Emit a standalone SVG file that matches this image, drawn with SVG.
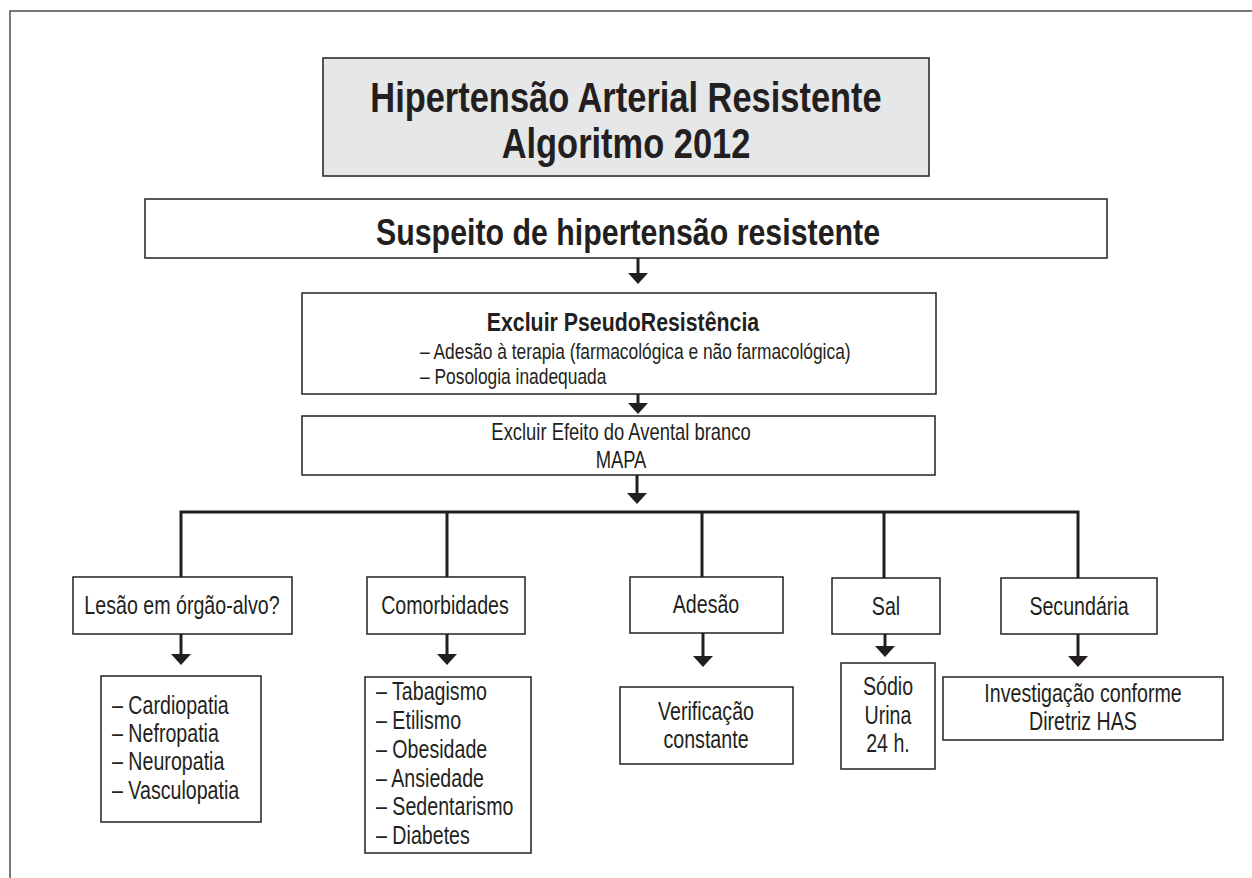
<svg xmlns="http://www.w3.org/2000/svg" width="1252" height="878" viewBox="0 0 1252 878">
<style>
.box{fill:#ffffff;stroke:#231f20;stroke-width:1.5}
.gray{fill:#e6e7e8}
.t{font-family:"Liberation Sans",Arial,sans-serif;fill:#231f20;font-size:25px}
.b{font-weight:bold}
.c{text-anchor:middle}
.ln{fill:none;stroke:#231f20;stroke-width:3}
.arr{fill:none;stroke:#231f20;stroke-width:3;marker-end:url(#ah)}
.frame{fill:none;stroke:#4d4d4d;stroke-width:1.5}
</style>
<defs>
<marker id="ah" viewBox="0 0 11 20" refX="2" refY="10" markerWidth="11" markerHeight="20" markerUnits="userSpaceOnUse" orient="auto">
<path d="M0,0 L11,10 L0,20 Z" fill="#231f20"/>
</marker>
</defs>
<rect width="1252" height="878" fill="#ffffff"/>
<path class="frame" d="M10,878 V11 H1252"/>

<g id="connectors">
<line class="arr" x1="638" y1="258" x2="638" y2="275"/>
<line class="arr" x1="638" y1="394" x2="638" y2="405"/>
<line class="arr" x1="637" y1="475" x2="637" y2="495"/>
<path class="ln" d="M181,578 V512 H1078 V578"/>
<line class="ln" x1="447" y1="512" x2="447" y2="578"/>
<line class="ln" x1="702" y1="512" x2="702" y2="578"/>
<line class="ln" x1="884" y1="512" x2="884" y2="579"/>
<line class="arr" x1="181" y1="634" x2="181" y2="656"/>
<line class="arr" x1="447" y1="634" x2="447" y2="656"/>
<line class="arr" x1="703" y1="633" x2="703" y2="658"/>
<line class="arr" x1="885" y1="634" x2="885" y2="648"/>
<line class="arr" x1="1078" y1="634" x2="1078" y2="658"/>
</g>

<g id="title">
<rect class="box gray" x="323" y="58" width="606" height="118"/>
<text class="t b c" style="font-size:42px" transform="translate(626 112) scale(0.82 1)">Hipertensão Arterial Resistente</text>
<text class="t b c" style="font-size:42px" transform="translate(626 158) scale(0.82 1)">Algoritmo 2012</text>
</g>

<g id="suspeito">
<rect class="box" x="145" y="199" width="962" height="59"/>
<text class="t b c" style="font-size:37px" transform="translate(628 245) scale(0.82 1)">Suspeito de hipertensão resistente</text>
</g>

<g id="pseudo">
<rect class="box" x="302" y="293" width="634" height="101"/>
<text class="t b c" style="font-size:26px" transform="translate(623 331) scale(0.82 1)">Excluir PseudoResistência</text>
<text class="t" style="font-size:22px" transform="translate(420 359) scale(0.79 1)">– Adesão à terapia (farmacológica e não farmacológica)</text>
<text class="t" style="font-size:22px" transform="translate(420 384) scale(0.79 1)">– Posologia inadequada</text>
</g>

<g id="efeito">
<rect class="box" x="302" y="416" width="633" height="59"/>
<text class="t c" style="font-size:23px" transform="translate(621 440) scale(0.8 1)">Excluir Efeito do Avental branco</text>
<text class="t c" style="font-size:23px" transform="translate(621 468) scale(0.8 1)">MAPA</text>
</g>

<g id="lesao">
<rect class="box" x="73" y="577" width="219" height="57"/>
<text class="t c" transform="translate(182 614) scale(0.785 1)">Lesão em órgão-alvo?</text>
</g>

<g id="comorbidades">
<rect class="box" x="367" y="577" width="158" height="57"/>
<text class="t c" transform="translate(445 614) scale(0.785 1)">Comorbidades</text>
</g>

<g id="adesao">
<rect class="box" x="630" y="577" width="153" height="56"/>
<text class="t c" transform="translate(706 613) scale(0.785 1)">Adesão</text>
</g>

<g id="sal">
<rect class="box" x="832" y="578" width="108" height="56"/>
<text class="t c" transform="translate(886 615) scale(0.785 1)">Sal</text>
</g>

<g id="secundaria">
<rect class="box" x="1001" y="578" width="156" height="56"/>
<text class="t c" transform="translate(1079 615) scale(0.785 1)">Secundária</text>
</g>

<g id="lesao-lista">
<rect class="box" x="101" y="676" width="160" height="146"/>
<text class="t" transform="translate(112 714) scale(0.785 1)">– Cardiopatia</text>
<text class="t" transform="translate(112 742) scale(0.785 1)">– Nefropatia</text>
<text class="t" transform="translate(112 770) scale(0.785 1)">– Neuropatia</text>
<text class="t" transform="translate(112 799) scale(0.785 1)">– Vasculopatia</text>
</g>

<g id="comorbidades-lista">
<rect class="box" x="365" y="677" width="166" height="176"/>
<text class="t" transform="translate(376 700) scale(0.785 1)">– Tabagismo</text>
<text class="t" transform="translate(376 729) scale(0.785 1)">– Etilismo</text>
<text class="t" transform="translate(376 758) scale(0.785 1)">– Obesidade</text>
<text class="t" transform="translate(376 787) scale(0.785 1)">– Ansiedade</text>
<text class="t" transform="translate(376 815) scale(0.785 1)">– Sedentarismo</text>
<text class="t" transform="translate(376 844) scale(0.785 1)">– Diabetes</text>
</g>

<g id="verificacao">
<rect class="box" x="620" y="687" width="173" height="77"/>
<text class="t c" transform="translate(706 720) scale(0.785 1)">Verificação</text>
<text class="t c" transform="translate(706 748) scale(0.785 1)">constante</text>
</g>

<g id="sodio">
<rect class="box" x="841" y="663" width="94" height="106"/>
<text class="t c" transform="translate(888 695) scale(0.785 1)">Sódio</text>
<text class="t c" transform="translate(888 724) scale(0.785 1)">Urina</text>
<text class="t c" transform="translate(888 752) scale(0.785 1)">24 h.</text>
</g>

<g id="investigacao">
<rect class="box" x="943" y="677" width="280" height="63"/>
<text class="t c" transform="translate(1083 702) scale(0.785 1)">Investigação conforme</text>
<text class="t c" transform="translate(1083 730) scale(0.785 1)">Diretriz HAS</text>
</g>
</svg>
